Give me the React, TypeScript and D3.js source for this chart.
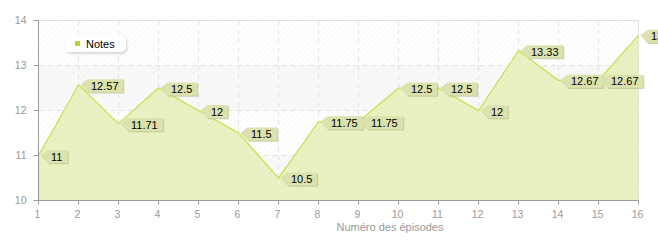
import React from "react";
import * as d3 from "d3";

const episodes = [1, 2, 3, 4, 5, 6, 7, 8, 9, 10, 11, 12, 13, 14, 15, 16];
const notes = [11, 12.57, 11.71, 12.5, 12, 11.5, 10.5, 11.75, 11.75, 12.5, 12.5, 12, 13.33, 12.67, 12.67, 13.67];
const yTicks = [10, 11, 12, 13, 14];
const seriesName = "Notes";
const xTitle = "Numéro des épisodes";

const W = 658;
const H = 240;

export default function App() {
  const x = d3.scaleLinear().domain([1, 16]).range([38.5, 638.5]);
  const y = d3.scaleLinear().domain([10, 14]).range([200.5, 20.5]);
  const pts = episodes.map((e, i) => [x(e), y(notes[i])] as [number, number]);
  const line = d3.line()(pts) || "";
  const area =
    d3
      .area<[number, number]>()
      .x((d) => d[0])
      .y0(y(10))
      .y1((d) => d[1])(pts) || "";

  const font = "'Liberation Sans', Arial, sans-serif";
  const labelFont = "'Liberation Sans', Arial, sans-serif";

  const measure = (s: string) => {
    let w = 0;
    for (const c of s) w += c === "." ? 3.06 : 6.12;
    return w;
  };

  return (
    <svg
      width={W}
      height={H}
      style={{ position: "absolute", left: 0, top: 0, background: "#fff" }}
      fontFamily={font}
    >
      <defs>
        <pattern id="hatchBg" width="4" height="4" patternUnits="userSpaceOnUse" patternTransform="rotate(45)">
          <line x1="0" y1="0" x2="0" y2="4" stroke="#efefef" strokeWidth="1" />
        </pattern>
        <pattern id="hatchArea" width="4" height="4" patternUnits="userSpaceOnUse" patternTransform="rotate(45)">
          <line x1="0" y1="0" x2="0" y2="4" stroke="#dde9ab" strokeWidth="1" />
        </pattern>
        <filter id="legShadow" x="-20%" y="-30%" width="140%" height="180%">
          <feDropShadow dx="1" dy="1.5" stdDeviation="1.2" floodColor="#000" floodOpacity="0.18" />
        </filter>
      </defs>

      {/* background bands */}
      {yTicks.slice(0, -1).map((t, i) => (
        <rect
          key={"band" + t}
          x={x(1)}
          y={y(t + 1)}
          width={x(16) - x(1)}
          height={y(t) - y(t + 1)}
          fill={i % 2 === 0 ? "#f9f9f9" : "#ffffff"}
        />
      ))}
      <rect x={x(1)} y={y(14)} width={x(16) - x(1)} height={y(10) - y(14)} fill="url(#hatchBg)" />

      {/* grid */}
      {episodes.slice(1, -1).map((e) => (
        <line key={"vg" + e} x1={x(e)} x2={x(e)} y1={y(14)} y2={y(10)} stroke="#e2e2e2" strokeDasharray="5,4" />
      ))}
      {yTicks.slice(1, -1).map((t) => (
        <line key={"hg" + t} x1={x(1)} x2={x(16)} y1={y(t)} y2={y(t)} stroke="#e2e2e2" strokeDasharray="5,4" />
      ))}
      <line x1={x(1)} x2={x(16)} y1={y(14)} y2={y(14)} stroke="#e0e0e0" />
      <line x1={x(16)} x2={x(16)} y1={y(14)} y2={y(10)} stroke="#e0e0e0" />

      {/* area */}
      <path d={area} fill="#e8f1c0" fillOpacity={0.92} />
      <path d={area} fill="url(#hatchArea)" />
      <path d={line} fill="none" stroke="#c4de3c" strokeWidth={1.1} />

      {/* axes */}
      <line x1={x(1)} x2={x(1)} y1={y(14)} y2={y(10)} stroke="#999" />
      <line x1={x(1)} x2={x(16)} y1={y(10)} y2={y(10)} stroke="#999" />
      {yTicks.map((t) => (
        <g key={"yt" + t}>
          <line x1={x(1) - 5} x2={x(1)} y1={y(t)} y2={y(t)} stroke="#999" />
          <text x={x(1) - 12} y={y(t) + 3.5} textAnchor="end" fontSize={10.5} fill="#999">
            {t}
          </text>
        </g>
      ))}
      {episodes.map((e) => (
        <g key={"xt" + e}>
          <line x1={x(e)} x2={x(e)} y1={y(10)} y2={y(10) + 4} stroke="#999" />
          <text x={x(e) - 1} y={218} textAnchor="middle" fontSize={10.5} fill="#999">
            {e}
          </text>
        </g>
      ))}
      <text x={390} y={231} textAnchor="middle" fontSize={11} fill="#999">
        {xTitle}
      </text>

      {/* labels */}
      {pts.map(([px, py], i) => {
        const s = String(notes[i]);
        const tw = measure(s);
        const bl = px + 9;
        const br = bl + tw + 8;
        const top = py - 5.5;
        const bot = py + 7.5;
        const tip = px + 2;
        const d = `M${tip},${py} L${bl},${top} L${br},${top} L${br},${bot} L${bl},${bot} Z`;
        return (
          <g key={"lab" + i}>
            <path d={d} transform="translate(1.2,1.2)" fill="#b9c08a" fillOpacity={0.7} />
            <path d={d} fill="#dce2ad" />
            <text x={bl + 3.5} y={py + 5} fontSize={11} fill="#000" fontFamily={labelFont}>
              {s}
            </text>
          </g>
        );
      })}

      {/* legend */}
      <rect x={65} y={35} width={61} height={17} rx={5} ry={5} fill="#fff" filter="url(#legShadow)" />
      <rect x={75} y={41} width={5} height={5} fill="#b7d530" />
      <text x={86} y={47.5} fontSize={11} fill="#000">
        {seriesName}
      </text>
    </svg>
  );
}
